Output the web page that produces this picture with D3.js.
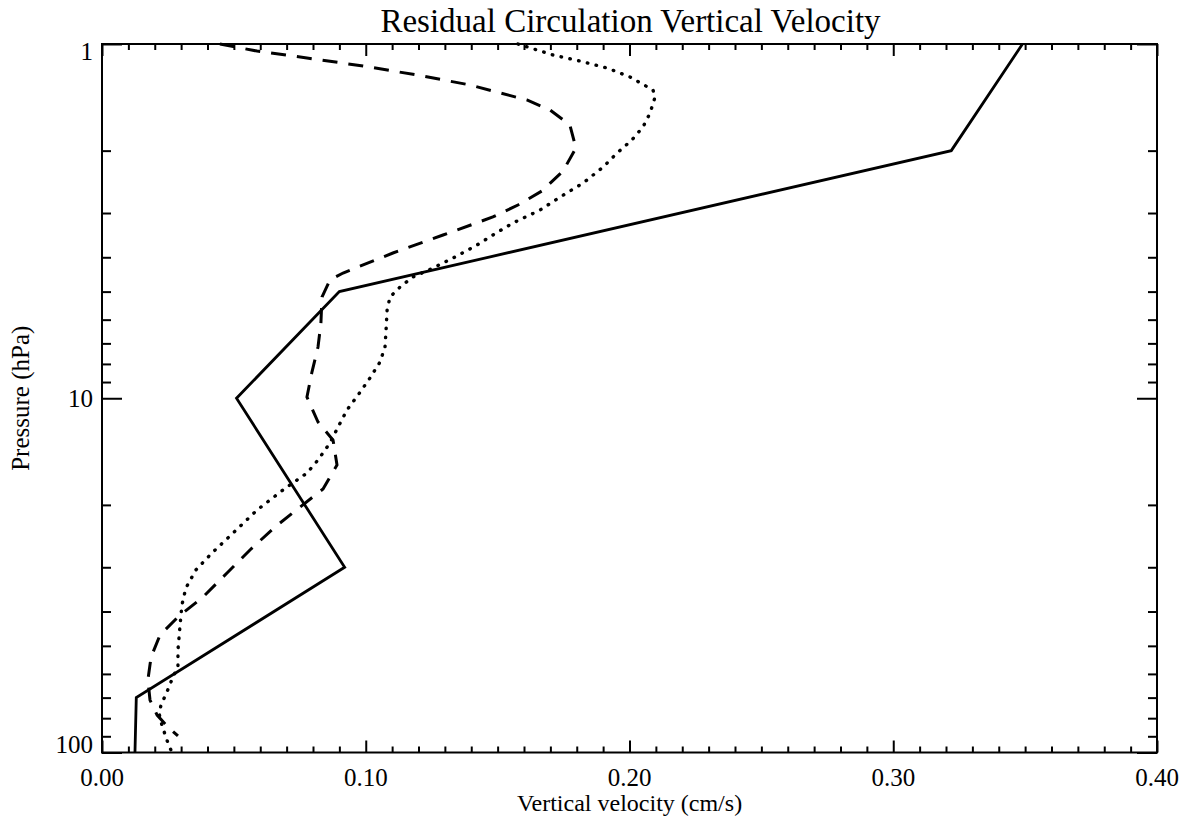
<!DOCTYPE html>
<html>
<head>
<meta charset="utf-8">
<script src="https://cdn.jsdelivr.net/npm/d3@7"></script>
<style>
  html, body { margin: 0; padding: 0; background: #fff; }
  svg { display: block; }
  text { font-family: "Liberation Serif", "Times New Roman", serif; fill: #000; }
</style>
</head>
<body>
<svg id="chart" width="1193" height="825"></svg>
<script>
// ---- Data (pressure in hPa, vertical velocity in cm/s) ----
const solidP = [1, 2, 5, 10, 30, 70, 100];
const solidV = [0.349, 0.322, 0.090, 0.051, 0.092, 0.013, 0.0125];

const dashedP = [1.0, 1.047, 1.095, 1.154, 1.223, 1.305, 1.439, 1.536, 1.693, 1.966,
  2.283, 2.600, 2.848, 3.078, 3.461, 3.890, 4.430, 4.637, 5.178, 6.133,
  7.166, 8.433, 9.92, 11.67, 13.12, 15.43, 18.04, 20.28, 23.09, 26.81,
  31.13, 36.39, 41.45, 46.6, 53.8, 62.4, 71.1, 78.4, 84.7, 89.8];
const dashedV = [0.0447, 0.0588, 0.0777, 0.0990, 0.1194, 0.1395, 0.1611, 0.1699, 0.1774, 0.1797,
  0.1748, 0.1668, 0.1577, 0.1482, 0.1293, 0.1103, 0.0914, 0.0864, 0.0834, 0.0830,
  0.0819, 0.0796, 0.0777, 0.0819, 0.0876, 0.0891, 0.0838, 0.0751, 0.0656, 0.0561,
  0.0474, 0.0383, 0.0288, 0.0220, 0.0186, 0.0174, 0.0182, 0.0209, 0.0250, 0.0288];

const dottedP = [1.0, 1.074, 1.117, 1.169, 1.239, 1.349, 1.411, 1.566, 1.715, 1.866,
  2.031, 2.225, 2.469, 2.704, 2.942, 3.201, 3.461, 3.693, 4.019, 4.289,
  4.547, 4.853, 5.178, 5.636, 6.418, 7.166, 7.902, 8.767, 9.790, 10.79,
  12.06, 13.38, 14.94, 16.26, 18.16, 20.68, 24.01, 27.34, 30.53, 34.33,
  38.34, 43.66, 51.36, 57.35, 61.2, 67.5, 73.4, 77.4, 83.6, 92.2, 100];
const dottedV = [0.1577, 0.1710, 0.1812, 0.1915, 0.2002, 0.2089, 0.2097, 0.2078, 0.2051, 0.2009,
  0.1953, 0.1900, 0.1824, 0.1737, 0.1661, 0.1558, 0.1482, 0.1422, 0.1331, 0.1255,
  0.1179, 0.1130, 0.1092, 0.1081, 0.1077, 0.1073, 0.1054, 0.1016, 0.0971, 0.0929,
  0.0895, 0.0864, 0.0819, 0.0777, 0.0686, 0.0588, 0.0497, 0.0417, 0.0356, 0.0318,
  0.0303, 0.0296, 0.0288, 0.0288, 0.0269, 0.0246, 0.0224, 0.0216, 0.0227, 0.0246, 0.0265];

const xMajorTicks = [0.0, 0.1, 0.2, 0.3, 0.4];
const xTickLabels = ["0.00", "0.10", "0.20", "0.30", "0.40"];
const yMajorTicks = [1, 10, 100];
const yTickLabels = ["1", "10", "100"];

const titleText = "Residual Circulation Vertical Velocity";
const xLabelText = "Vertical velocity (cm/s)";
const yLabelText = "Pressure (hPa)";

// ---- Layout ----
const L = 102, R = 1157, T = 44, B = 752.5;
const svg = d3.select("#chart");

const x = d3.scaleLinear().domain([0, 0.4]).range([L, R]);
const y = d3.scaleLog().domain([1, 100]).range([T, B]);

const xMinor = d3.range(0, 41).map(i => i / 100).filter(v => !xMajorTicks.some(m => Math.abs(m - v) < 1e-9));
const yMinor = [];
[1, 10].forEach(d => { for (let k = 2; k <= 9; k++) yMinor.push(d * k); });

function drawAxis(axisFn, vals, size, transform) {
  const g = svg.append("g").attr("transform", transform)
    .call(axisFn.tickValues(vals).tickSizeInner(size).tickSizeOuter(0).tickFormat(""));
  g.select(".domain").remove();
  g.selectAll(".tick line").attr("stroke", "#000").attr("stroke-width", 2);
  return g;
}

// bottom / top (ticks inward)
drawAxis(d3.axisBottom(x), xMinor, -6, `translate(0,${B})`);
drawAxis(d3.axisBottom(x), xMajorTicks, -12, `translate(0,${B})`);
drawAxis(d3.axisTop(x), xMinor, -6, `translate(0,${T})`);
drawAxis(d3.axisTop(x), xMajorTicks, -12, `translate(0,${T})`);
// left / right
drawAxis(d3.axisLeft(y), yMinor, -9, `translate(${L},0)`);
drawAxis(d3.axisLeft(y), yMajorTicks, -20, `translate(${L},0)`);
drawAxis(d3.axisRight(y), yMinor, -9, `translate(${R},0)`);
drawAxis(d3.axisRight(y), yMajorTicks, -20, `translate(${R},0)`);

// frame
svg.append("rect").attr("x", L).attr("y", T).attr("width", R - L).attr("height", B - T)
  .attr("fill", "none").attr("stroke", "#000").attr("stroke-width", 2);

// tick labels
svg.append("g").selectAll("text").data(xMajorTicks).join("text")
  .attr("x", d => x(d)).attr("y", B + 33)
  .attr("text-anchor", "middle").attr("font-size", 25)
  .text((d, i) => xTickLabels[i]);

const yLabOffset = [16, 9, 0];
svg.append("g").selectAll("text").data(yMajorTicks).join("text")
  .attr("x", L - 9).attr("y", (d, i) => y(d) + yLabOffset[i])
  .attr("text-anchor", "end").attr("font-size", 25)
  .text((d, i) => yTickLabels[i]);

// titles
svg.append("text").attr("x", (L + R) / 2 + 1).attr("y", 32).attr("text-anchor", "middle")
  .attr("font-size", 33).text(titleText);
svg.append("text").attr("x", (L + R) / 2).attr("y", 811).attr("text-anchor", "middle")
  .attr("font-size", 24).text(xLabelText);
svg.append("text").attr("transform", `translate(29,${(T + B) / 2}) rotate(-90)`)
  .attr("text-anchor", "middle").attr("font-size", 25).text(yLabelText);

// lines
const line = d3.line().x(d => x(d[1])).y(d => y(d[0]));
const zip = (P, V) => P.map((p, i) => [p, V[i]]);

const plot = svg.append("g");
plot.append("path").datum(zip(solidP, solidV)).attr("d", line)
  .attr("fill", "none").attr("stroke", "#000").attr("stroke-width", 2.8).attr("stroke-linejoin", "miter");
plot.append("path").datum(zip(dashedP, dashedV)).attr("d", line)
  .attr("fill", "none").attr("stroke", "#000").attr("stroke-width", 3)
  .attr("stroke-dasharray", "15,11");
plot.append("path").datum(zip(dottedP, dottedV)).attr("d", line)
  .attr("fill", "none").attr("stroke", "#000").attr("stroke-width", 3.4)
  .attr("stroke-linecap", "round").attr("stroke-dasharray", "0.5,8.5");
</script>
</body>
</html>
